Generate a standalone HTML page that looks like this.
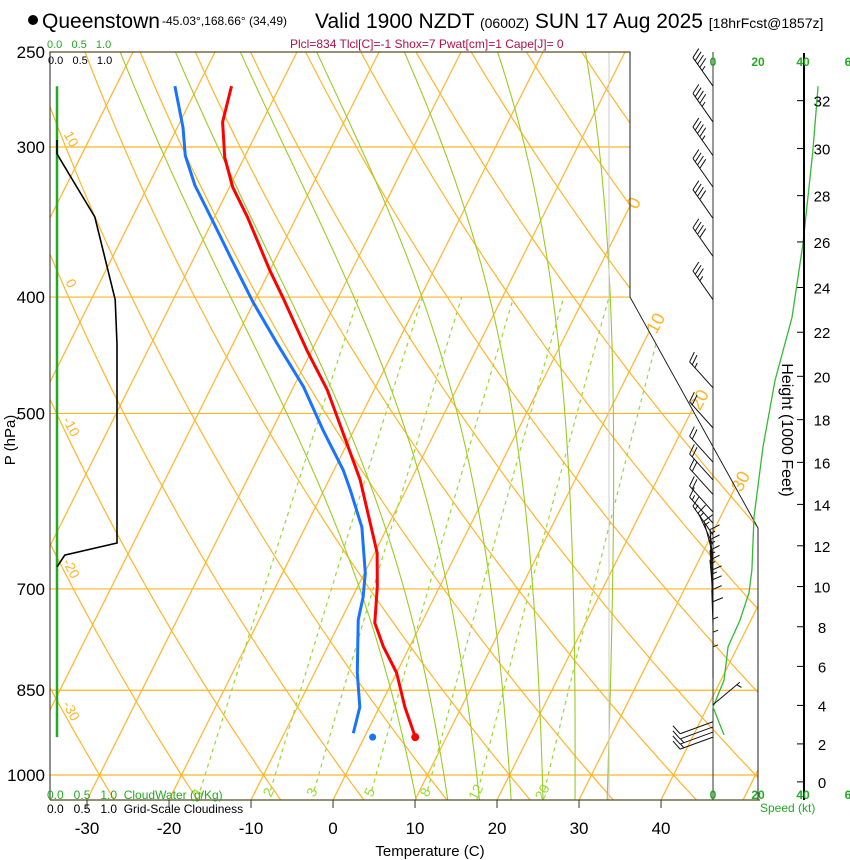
<!DOCTYPE html>
<html><head><meta charset="utf-8"><style>
body{margin:0;background:#fff;width:850px;height:860px;overflow:hidden}
svg{display:block;font-family:"Liberation Sans",Arial,sans-serif}
</style></head><body>
<svg id="chart" width="850" height="860" viewBox="0 0 850 860" xmlns="http://www.w3.org/2000/svg">
<defs><clipPath id="plotclip"><polygon points="50,52 630,52 630,297 758,528 758,800 50,800"/></clipPath></defs>
<g>
<circle cx="33" cy="20" r="5" fill="#000"/>
<text x="42" y="28" font-size="21">Queenstown</text>
<text x="162" y="25" font-size="12">-45.03°,168.66° (34,49)</text>
<text x="315" y="28" font-size="21">Valid 1900 NZDT <tspan font-size="14">(0600Z)</tspan> SUN 17 Aug 2025 <tspan font-size="14">[18hrFcst@1857z]</tspan></text>
<text x="290" y="48" font-size="12" fill="#b0104a">Plcl=834 Tlcl[C]=-1 Shox=7 Pwat[cm]=1 Cape[J]= 0</text>
</g>
<g font-size="11">
<text x="47" y="48" fill="#22aa22">0.0 &#160;&#160;0.5 &#160;&#160;1.0</text>
<text x="48" y="64" fill="#000">0.0 &#160;&#160;0.5 &#160;&#160;1.0</text>
</g>
<g id="grid" clip-path="url(#plotclip)"></g>
<g id="labels"></g>
<g id="profiles"></g>
<g id="frame"></g>
<g id="right"></g>
<g font-size="12">
<text x="47" y="799" fill="#22aa22">0.0 &#160;&#160;0.5 &#160;&#160;1.0 &#160;CloudWater (g/Kg)</text>
<text x="47" y="813" fill="#000">0.0 &#160;&#160;0.5 &#160;&#160;1.0 &#160;Grid-Scale Cloudiness</text>
<text x="430" y="856" font-size="15" text-anchor="middle">Temperature (C)</text>
<text x="15" y="440" font-size="15" text-anchor="middle" transform="rotate(-90 15 440)">P (hPa)</text>
<text x="782" y="430" font-size="16" text-anchor="middle" transform="rotate(90 782 430)">Height (1000 Feet)</text>
<text x="760" y="812" fill="#22aa22">Speed (kt)</text>
</g>
</svg>
<script>
// ---- data ----
const pressureTicks = [250,300,400,500,700,850,1000];
const tempTicks = [-30,-20,-10,0,10,20,30,40];
const isotherms = [-120,-110,-100,-90,-80,-70,-60,-50,-40,-30,-20,-10,0,10,20,30,40,50];
const dryAdiabats = [-60,-50,-40,-30,-20,-10,0,10,20,30,40,50,60,70,80,90,100,110,120,130,140,150];
const moistAdiabats = [8,12,16,20,24,28,32];
const mixRatios = [1,2,3,5,8,12,20];
const tempP = [930,878,822,782,747,697,653,568,529,478,443,400,380,343,324,306,286,267];
const tempT = [6.2,3.1,0,-3.2,-5.7,-7.6,-9.7,-16.2,-20.1,-25.7,-30.6,-36.8,-40,-46,-49.6,-52.4,-54.8,-55.9];
const dewP = [923,878,822,743,711,679,622,579,557,516,475,437,404,370,345,323,305,289,267];
const dewT = [-1.6,-2.4,-4.8,-7.9,-8.7,-9.9,-13.1,-16.8,-18.9,-23.8,-28.8,-34.7,-40.1,-45.7,-50.1,-54.3,-57.3,-59.3,-62.8];
const sfcP = 930, sfcT = 6.2, sfcTd = 1.0;
const cloudP = [296,304,319,343,402,438,641,656,671];
const cloudF = [0,0,0.25,0.63,0.97,1.0,1.0,0.13,0];
const cloudWaterP = [267,930];
const cloudWater = [0,0];
const spdP = [267,302,361,416,469,533,610,675,705,743,782,834,878,926];
const spdV = [46.7,44.4,40,35.1,27.6,22.2,18.2,17.3,16,12,6.7,4.9,0,4.9];
const barbP = [267,286,305,324,344,370,402,476,514,549,568,584,604,617,631,643,656,668,681,695,708,722,736,750,767,787,807,830,874,903,912,921,930];
const barbDir = [325,325,325,325,325,325,325,318,318,318,318,318,318,318,325,335,345,355,355,355,355,358,358,358,0,0,0,0,50,250,250,250,250];
const barbSpd = [46,45,44,42,41,39,36,27,22,19,18,18,18,17,17,17,17,17,16,16,15,13,11,9,8,6,5,5,5,10,12,14,15];
const heightTicks = [0,2,4,6,8,10,12,14,16,18,20,22,24,26,28,30,32];
const isoLabels = [0,10,20,30];
const isoLabelP = [332,418,484,566];
const thetaLabels = [10,0,-10,-20,-30];

// ---- axis functions ----
const NS='http://www.w3.org/2000/svg';
function yP(p){return 775-521.6*Math.log(1000/p);}
function xT(T,p){return 333+8.2*T+0.5*(800-yP(p));}
function xCloud(f){return 57+f*60;}
function xSpd(s){return 713+s*2.25;}
function pFromFt(ft){const h=ft*0.3048;return 1013.25*Math.pow(1-2.25577e-5*h,5.25588);}
function mk(tag,attrs,parent){const e=document.createElementNS(NS,tag);for(const k in attrs)e.setAttribute(k,attrs[k]);parent.appendChild(e);return e;}
function pts(arr){return arr.map(a=>a[0].toFixed(1)+','+a[1].toFixed(1)).join(' ');}
const grid=document.getElementById('grid');
const labels=document.getElementById('labels');
const prof=document.getElementById('profiles');
const frame=document.getElementById('frame');
const right=document.getElementById('right');
const OR='#ffb52a', GM='#99cc22', GD='#9ad832';

pressureTicks.forEach(p=>{
  if(p===250)return;
  const l=mk('line',{x1:50,x2:760,y1:yP(p),y2:yP(p),stroke:OR,'stroke-width':1.2},grid);
  
  
});
isotherms.forEach(T=>{
  const l=mk('line',{x1:xT(T,1049),y1:yP(1049),x2:xT(T,250),y2:yP(250),stroke:OR,'stroke-width':1.2},grid);
  
  
});
dryAdiabats.forEach(th=>{
  const a=[];for(let p=1050;p>=245;p-=10){const T=(th+273.15)*Math.pow(p/1000,0.2857)-273.15;a.push([xT(T,p),yP(p)]);}
  const l=mk('polyline',{points:pts(a),fill:'none',stroke:OR,'stroke-width':1.2},grid);
  
  
});
function es(Tc){return 6.112*Math.exp(17.67*Tc/(Tc+243.5));}
function dTdp(Tk,p){const e=es(Tk-273.15);const rs=0.622*e/(p-e);const Rd=287,cp=1004,Lv=2.5e6;
  return (Rd*Tk+Lv*rs)/(p*(cp+Lv*Lv*rs*0.622/(Rd*Tk*Tk)));}
moistAdiabats.forEach(T0=>{
  const up=[];let T=T0+273.15;for(let p=1000;p>=250;p-=2){up.push([xT(T-273.15,p),yP(p)]);T-=dTdp(T,p)*2;}
  const dn=[];T=T0+273.15;for(let p=1000;p<=1052;p+=2){dn.unshift([xT(T-273.15,p),yP(p)]);T+=dTdp(T,p)*2;}
  const l=mk('polyline',{points:pts(dn.concat(up)),fill:'none',stroke:GM,'stroke-width':1.1},grid);
  
  
});
mixRatios.forEach(w=>{
  const a=[];for(let p=1030;p>=400;p-=10){const e=(w/1000)*p/(0.622+w/1000);const L=Math.log(e/6.112);const Td=243.5*L/(17.67-L);a.push([xT(Td,p),yP(p)]);}
  const l=mk('polyline',{points:pts(a),fill:'none',stroke:GD,'stroke-width':1.2,'stroke-dasharray':'4,4'},grid);
  
  
  const p=1030;const e=(w/1000)*p/(0.622+w/1000);const L=Math.log(e/6.112);const Td=243.5*L/(17.67-L);
  const x=xT(Td,p)+2,y=yP(p)+4;
  const t=mk('text',{x:x,y:y,'font-size':14,fill:GD,'text-anchor':'middle',transform:`rotate(-62 ${x} ${y})`},labels);
  t.textContent=w;
  
  
});
isoLabels.forEach((T,i)=>{
  const p=isoLabelP[i];const x=xT(T,p)+6,y=yP(p)+6;
  const t=mk('text',{x:x,y:y,'font-size':18,fill:OR,'text-anchor':'middle',transform:`rotate(-62 ${x} ${y})`},labels);
  t.textContent=T;
  
  
});
thetaLabels.forEach(th=>{
  let best=null;for(let p=250;p<=1050;p+=1){const T=(th+273.15)*Math.pow(p/1000,0.2857)-273.15;if(xT(T,p)>=62){best=p;break;}}
  if(!best)return;const x=67,y=yP(best)+3;
  const t=mk('text',{x:x,y:y,'font-size':14,fill:OR,'text-anchor':'middle',transform:`rotate(62 ${x} ${y})`},labels);
  t.textContent=th;
  
  
});
mk('line',{x1:609,y1:52,x2:609,y2:800,stroke:'#cccccc','stroke-width':1},grid);

const fr=mk('polyline',{points:'50,800 50,52 630,52 630,297 758,528 758,800',fill:'none',stroke:'#222','stroke-width':1},frame);


mk('line',{x1:50,y1:52,x2:630,y2:52,stroke:'#5a4a20','stroke-width':1.3},frame);
mk('line',{x1:50,y1:800,x2:760,y2:800,stroke:'#5a4a20','stroke-width':1.3},frame);
mk('line',{x1:713,y1:52,x2:713,y2:800,stroke:'#333','stroke-width':1},frame);
pressureTicks.forEach(p=>{
  const t=mk('text',{x:45,y:yP(p)+6,'font-size':17,'text-anchor':'end'},frame);
  t.textContent=p;
  
  
});
tempTicks.forEach(T=>{
  const x=xT(T,1049);
  mk('line',{x1:x,y1:800,x2:x,y2:808,stroke:'#333','stroke-width':1},frame);
  const t=mk('text',{x:x,y:834,'font-size':17,'text-anchor':'middle'},frame);
  t.textContent=T;
  
  
});

const cw=mk('polyline',{points:pts(cloudWaterP.map((p,i)=>[xCloud(cloudWater[i]),yP(p)])),fill:'none',stroke:'#22aa22','stroke-width':2.5},prof);


const cl=mk('polyline',{points:pts(cloudP.map((p,i)=>[xCloud(cloudF[i]),yP(p)])),fill:'none',stroke:'#000','stroke-width':1.6},prof);


const dl=mk('polyline',{points:pts(dewP.map((p,i)=>[xT(dewT[i],p),yP(p)])),fill:'none',stroke:'#1a73ff','stroke-width':3,'stroke-linejoin':'round'},prof);


const tl=mk('polyline',{points:pts(tempP.map((p,i)=>[xT(tempT[i],p),yP(p)])),fill:'none',stroke:'#ff0000','stroke-width':3,'stroke-linejoin':'round'},prof);


const sd=mk('circle',{cx:xT(sfcT,sfcP),cy:yP(sfcP),r:4,fill:'#ff0000'},prof);


const sdd=mk('circle',{cx:xT(sfcTd,sfcP),cy:yP(sfcP),r:3.5,fill:'#1a73ff'},prof);



const sl=mk('polyline',{points:pts(spdP.map((p,i)=>[xSpd(spdV[i]),yP(p)])),fill:'none',stroke:'#33bb33','stroke-width':1.3},right);


barbP.forEach((p,i)=>{
  const g=mk('g',{stroke:'#111','stroke-width':1,fill:'none'},right);
  
  
  const bx=713,by=yP(p),spd=barbSpd[i];
  if(spd<2){mk('circle',{cx:bx,cy:by,r:6},g);mk('circle',{cx:bx,cy:by,r:3},g);return;}
  const r=barbDir[i]*Math.PI/180;const ux=Math.sin(r),uy=-Math.cos(r);const px=-uy,py=ux;
  const L=35;const tx=bx+ux*L,ty=by+uy*L;
  mk('line',{x1:bx,y1:by,x2:tx,y2:ty},g);
  let s=Math.round(spd/5)*5;let k=0;
  while(s>=10){const sx=tx-ux*k*4,sy=ty-uy*k*4;mk('line',{x1:sx,y1:sy,x2:sx+px*10+ux*4,y2:sy+py*10+uy*4},g);s-=10;k++;}
  if(s>=5){if(k===0)k=1;const sx=tx-ux*k*4,sy=ty-uy*k*4;mk('line',{x1:sx,y1:sy,x2:sx+px*5+ux*2,y2:sy+py*5+uy*2},g);}
});
mk('line',{x1:804,y1:53,x2:804,y2:800,stroke:'#000','stroke-width':2},right);
heightTicks.forEach(h=>{
  const y=yP(pFromFt(h*1000));
  mk('line',{x1:797,y1:y,x2:804,y2:y,stroke:'#000','stroke-width':1},right);
  const t=mk('text',{x:822,y:y+6,'font-size':15,'text-anchor':'middle'},right);
  t.textContent=h;
  
  
});
[0,20,40,6].forEach((v,i)=>{
  [66,799].forEach(yy=>{
    const t=mk('text',{x:713+i*45,y:yy,'font-size':12,'font-weight':'bold',fill:'#22aa22','text-anchor':'middle'},right);
    t.textContent=v;
    
    
  });
});
</script>
</body></html>
